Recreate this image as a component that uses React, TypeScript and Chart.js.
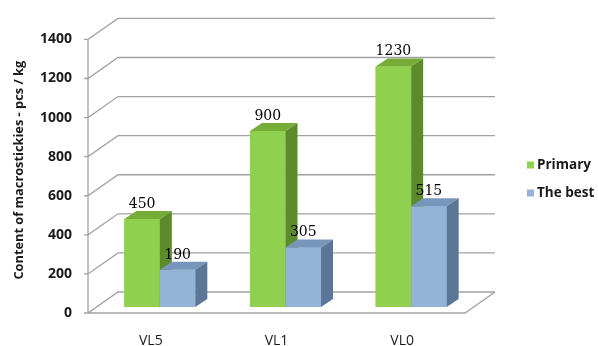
import React, { useEffect, useRef } from 'react';
import { Chart, registerables } from 'chart.js';

Chart.register(...registerables);

// ---- data ----
const categories = ['VL5', 'VL1', 'VL0'];
const primaryValues = [450, 900, 1230];
const bestValues = [190, 305, 515];
const seriesNames = ['Primary', 'The best'];
const yMin = 0;
const yMax = 1400;
const yStep = 200;
const yTitle = 'Content of macrostickies - pcs / kg';

// ---- styles ----
const GRID = '#a2a2a2';
const FACES = [
  { front: '#8fd04e', top: '#76ad37', side: '#5d8b2c' },
  { front: '#95b3d7', top: '#7896bb', side: '#5c7697' },
];
const FRONT = { dx: -9, dy: 6 };
const BACK = { dx: 21, dy: -15 };
const DEPTH = { dx: 12, dy: -8 };
const SANS = '"Open Sans", "Liberation Sans", sans-serif';

const threeD = {
  id: 'threeD',
  beforeDatasetsDraw(chart: any) {
    const { ctx, chartArea: a } = chart;
    const y = chart.scales.y;
    ctx.save();
    ctx.strokeStyle = GRID;
    ctx.lineWidth = 1.3;
    ctx.beginPath();
    for (const t of y.ticks) {
      const py = y.getPixelForValue(t.value);
      ctx.moveTo(a.left + FRONT.dx - 4, py + FRONT.dy);
      ctx.lineTo(a.left + FRONT.dx, py + FRONT.dy);
      ctx.lineTo(a.left + BACK.dx, py + BACK.dy);
      ctx.lineTo(a.right + BACK.dx, py + BACK.dy);
    }
    const y0 = y.getPixelForValue(yMin);
    const yT = y.getPixelForValue(yMax);
    ctx.moveTo(a.left + FRONT.dx, yT + FRONT.dy);
    ctx.lineTo(a.left + FRONT.dx, y0 + FRONT.dy);
    ctx.lineTo(a.right + FRONT.dx, y0 + FRONT.dy);
    ctx.lineTo(a.right + BACK.dx, y0 + BACK.dy);
    ctx.stroke();
    ctx.restore();
  },
  afterDatasetsDraw(chart: any) {
    const { ctx } = chart;
    const metas = chart.getSortedVisibleDatasetMetas();
    ctx.save();
    for (let i = 0; i < categories.length; i++) {
      metas.forEach((meta: any, di: number) => {
        const el = meta.data[i];
        if (!el) return;
        const { x, y, base, width } = el.getProps(['x', 'y', 'base', 'width'], true);
        const l = x - width / 2;
        const r = x + width / 2;
        const f = FACES[di % FACES.length];
        ctx.fillStyle = f.front;
        ctx.fillRect(l, y, r - l, base - y);
        ctx.fillStyle = f.top;
        ctx.beginPath();
        ctx.moveTo(l, y);
        ctx.lineTo(l + DEPTH.dx, y + DEPTH.dy);
        ctx.lineTo(r + DEPTH.dx, y + DEPTH.dy);
        ctx.lineTo(r, y);
        ctx.closePath();
        ctx.fill();
        ctx.fillStyle = f.side;
        ctx.beginPath();
        ctx.moveTo(r, y);
        ctx.lineTo(r + DEPTH.dx, y + DEPTH.dy);
        ctx.lineTo(r + DEPTH.dx, base + DEPTH.dy);
        ctx.lineTo(r, base);
        ctx.closePath();
        ctx.fill();
      });
    }
    ctx.fillStyle = '#000';
    ctx.font = '14px "DejaVu Serif", serif';
    ctx.textAlign = 'center';
    ctx.textBaseline = 'middle';
    metas.forEach((meta: any) => {
      meta.data.forEach((el: any, i: number) => {
        const { x, y } = el.getProps(['x', 'y'], true);
        const v = chart.data.datasets[meta.index].data[i];
        ctx.fillText(String(v), x, y - 15);
      });
    });
    ctx.restore();
  },
  afterDraw(chart: any) {
    const { ctx } = chart;
    ctx.save();
    ctx.font = `bold 13.5px ${SANS}`;
    ctx.textAlign = 'left';
    ctx.textBaseline = 'middle';
    chart.data.datasets.forEach((ds: any, i: number) => {
      const cy = 165 + i * 28;
      ctx.fillStyle = ds.backgroundColor;
      ctx.fillRect(527, cy - 3.5, 7, 7);
      ctx.fillStyle = '#1a1a1a';
      ctx.fillText(ds.label, 537, cy);
    });
    ctx.restore();
  },
};

export default function App() {
  const ref = useRef<HTMLCanvasElement>(null);
  useEffect(() => {
    if (!ref.current) return;
    const chart = new Chart(ref.current, {
      type: 'bar',
      data: {
        labels: categories,
        datasets: [
          { label: seriesNames[0], data: primaryValues, backgroundColor: FACES[0].front },
          { label: seriesNames[1], data: bestValues, backgroundColor: FACES[1].front },
        ],
      },
      options: {
        responsive: false,
        animation: false,
        devicePixelRatio: 1,
        layout: { padding: { left: 0, right: 124, top: 29, bottom: 0 } },
        datasets: { bar: { barPercentage: 1, categoryPercentage: 0.565 } },
        plugins: { legend: { display: false }, tooltip: { enabled: false } },
        scales: {
          x: {
            grid: { display: false },
            border: { display: false },
            ticks: { font: { family: SANS, size: 14 }, color: '#1a1a1a', padding: 18, labelOffset: -9, maxRotation: 0 },
            afterFit: (s: any) => { s.height = 39; },
          },
          y: {
            min: yMin,
            max: yMax,
            grid: { display: false, drawTicks: false },
            border: { display: false },
            ticks: {
              stepSize: yStep,
              callback: (v: any) => String(v),
              font: { family: SANS, size: 14, weight: 'bold' },
              color: '#1a1a1a',
              padding: 25,
              labelOffset: 6,
            },
            title: { display: true, text: yTitle, font: { family: SANS, size: 12.8, weight: 'bold' }, color: '#1a1a1a', padding: { top: 12, bottom: 0 } },
            afterFit: (s: any) => { s.width = 97; },
          },
        },
      },
      plugins: [threeD],
    });
    return () => chart.destroy();
  }, []);
  return (
    <div style={{ position: 'fixed', left: 0, top: 0, width: 598, height: 346, background: '#fff' }}>
      <canvas ref={ref} width={598} height={346} />
    </div>
  );
}
